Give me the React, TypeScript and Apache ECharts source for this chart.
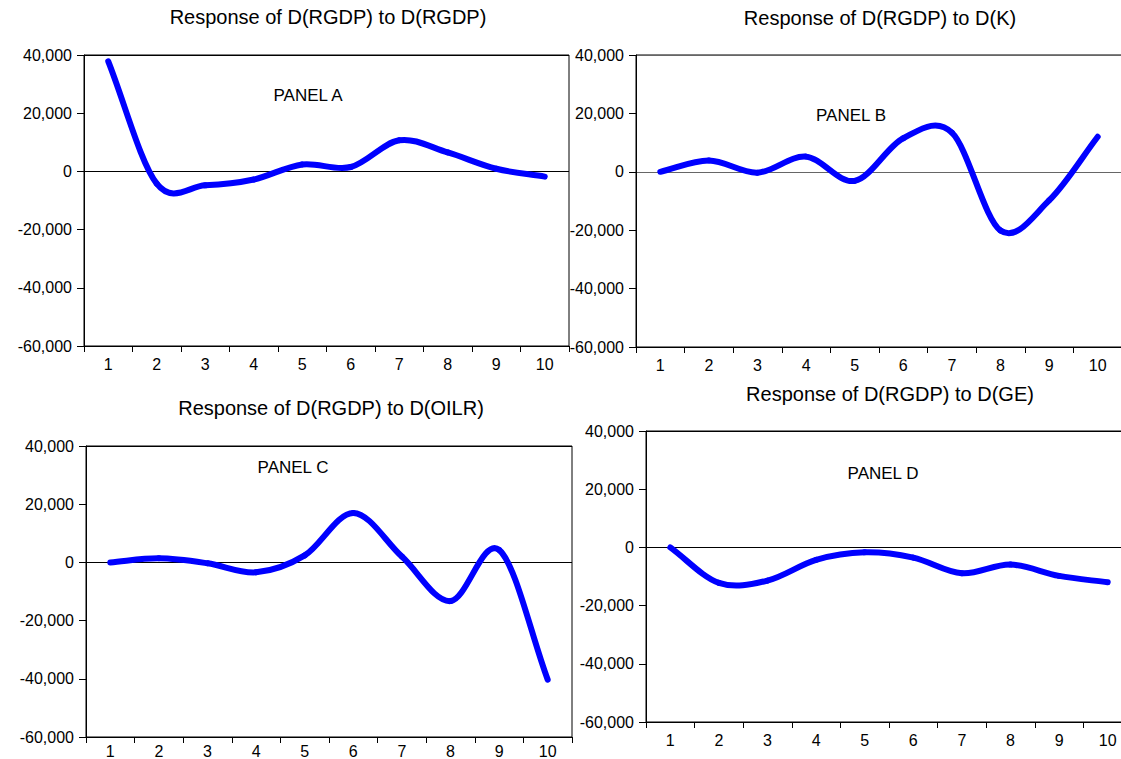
import React, { useEffect, useRef } from 'react';
import * as echarts from 'echarts';

// ---- data ----
const periods = ['1', '2', '3', '4', '5', '6', '7', '8', '9', '10'];
const yMin = -60000;
const yMax = 40000;
const yStep = 20000;

const responseToRGDP = [37800, -4200, -4800, -2800, 2400, 1500, 10700, 6500, 900, -1800];
const responseToK = [0, 3900, -300, 5200, -3100, 11500, 13400, -20100, -9800, 12000];
const responseToOILR = [0, 1400, -300, -3400, 2400, 17000, 2000, -13300, 4300, -40300];
const responseToGE = [0, -12200, -11400, -4300, -1700, -3500, -8900, -5900, -9800, -12000];

const titles = [
  'Response of D(RGDP) to D(RGDP)',
  'Response of D(RGDP) to D(K)',
  'Response of D(RGDP) to D(OILR)',
  'Response of D(RGDP) to D(GE)',
];
const panelLabels = ['PANEL A', 'PANEL B', 'PANEL C', 'PANEL D'];
const seriesData = [responseToRGDP, responseToK, responseToOILR, responseToGE];

// ---- layout ----
const FONT = '"Liberation Sans", Arial, Helvetica, sans-serif';
const grids = [
  { left: 84, top: 55, width: 485, height: 291 },
  { left: 636, top: 55, width: 486, height: 292 },
  { left: 86, top: 446, width: 486, height: 291 },
  { left: 646, top: 431, width: 486, height: 291 },
];
const xLabelMargins = [10, 10, 6, 10];
const titlePos = [
  { x: 328, y: 17 },
  { x: 880, y: 18 },
  { x: 331, y: 408 },
  { x: 890, y: 394 },
];
const labelPos = [
  { x: 308, y: 95 },
  { x: 851, y: 115 },
  { x: 293, y: 467 },
  { x: 883, y: 473 },
];
const zeroColors = ['#000', '#666', '#000', '#000'];
const LINE_COLOR = '#0000ff';

const fmt = (v: number) => v.toLocaleString('en-US');

// Smooth spline (Catmull-Rom) segment between data points k and k+1,
// positioned through the axis scales via api.coord
function makeRenderItem(values: number[]) {
  return (params: any, api: any) => {
    const k = params.dataIndex;
    const n = values.length;
    if (k >= n - 1) return null;
    const pt = (j: number) => api.coord([j, values[j]]);
    const p1 = pt(k);
    const p2 = pt(k + 1);
    const p0 = k > 0 ? pt(k - 1) : [2 * p1[0] - p2[0], 2 * p1[1] - p2[1]];
    const p3 = k + 2 < n ? pt(k + 2) : [2 * p2[0] - p1[0], 2 * p2[1] - p1[1]];
    return {
      type: 'bezierCurve',
      shape: {
        x1: p1[0],
        y1: p1[1],
        x2: p2[0],
        y2: p2[1],
        cpx1: p1[0] + (p2[0] - p0[0]) / 6,
        cpy1: p1[1] + (p2[1] - p0[1]) / 6,
        cpx2: p2[0] - (p3[0] - p1[0]) / 6,
        cpy2: p2[1] - (p3[1] - p1[1]) / 6,
      },
      style: { fill: 'none', stroke: LINE_COLOR, lineWidth: 6, lineCap: 'round', lineJoin: 'round' },
      silent: true,
    };
  };
}

export default function App() {
  const ref = useRef<HTMLDivElement>(null);

  useEffect(() => {
    document.body.style.margin = '0';
    if (!ref.current) return;
    const chart = echarts.init(ref.current, null, { renderer: 'svg' });

    const xAxis: any[] = [];
    const yAxis: any[] = [];
    const series: any[] = [];
    const graphic: any[] = [];

    grids.forEach((g, i) => {
      xAxis.push({
        gridIndex: i,
        type: 'category',
        data: periods,
        boundaryGap: true,
        axisLine: { show: true, onZero: false, lineStyle: { color: '#000', width: 1 } },
        axisTick: { show: true, length: 6, lineStyle: { color: '#000' } },
        axisLabel: { fontSize: 16, color: '#000', margin: xLabelMargins[i], interval: 0, fontFamily: FONT },
        splitLine: { show: false },
      });
      yAxis.push({
        gridIndex: i,
        type: 'value',
        position: 'left',
        min: yMin,
        max: yMax,
        interval: yStep,
        axisLine: { show: true, lineStyle: { color: '#000', width: 1 } },
        axisTick: { show: true, length: 7, lineStyle: { color: '#000' } },
        axisLabel: { fontSize: 16, color: '#000', margin: 12, fontFamily: FONT, formatter: fmt },
        splitLine: { show: false },
      });
      // zero reference line via split line of a helper axis
      yAxis.push({
        gridIndex: i,
        type: 'value',
        min: yMin,
        max: yMax,
        interval: -yMin,
        axisLine: { show: false },
        axisTick: { show: false },
        axisLabel: { show: false },
        splitLine: { show: true, lineStyle: { color: zeroColors[i], width: 1 } },
      });
      series.push({
        type: 'custom',
        xAxisIndex: i,
        yAxisIndex: i * 2,
        data: seriesData[i].map((v, k) => [k, v]),
        encode: { x: 0, y: 1 },
        renderItem: makeRenderItem(seriesData[i]),
        z: 3,
      });
      graphic.push({
        type: 'text',
        x: titlePos[i].x,
        y: titlePos[i].y,
        style: {
          text: titles[i],
          fontSize: 20,
          fontFamily: FONT,
          fill: '#000',
          align: 'center',
          verticalAlign: 'middle',
        },
      });
      graphic.push({
        type: 'text',
        x: labelPos[i].x,
        y: labelPos[i].y,
        style: {
          text: panelLabels[i],
          fontSize: 17,
          fontFamily: FONT,
          fill: '#000',
          align: 'center',
          verticalAlign: 'middle',
        },
      });
    });

    chart.setOption({
      animation: false,
      backgroundColor: '#fff',
      textStyle: { fontFamily: FONT },
      grid: grids.map((g) => ({
        ...g,
        show: true,
        borderColor: '#000',
        borderWidth: 1,
        backgroundColor: 'transparent',
        containLabel: false,
        outerBoundsMode: 'none',
      })),
      xAxis,
      yAxis,
      series,
      graphic,
    });

    return () => chart.dispose();
  }, []);

  return <div ref={ref} style={{ width: 1121, height: 759 }} />;
}
